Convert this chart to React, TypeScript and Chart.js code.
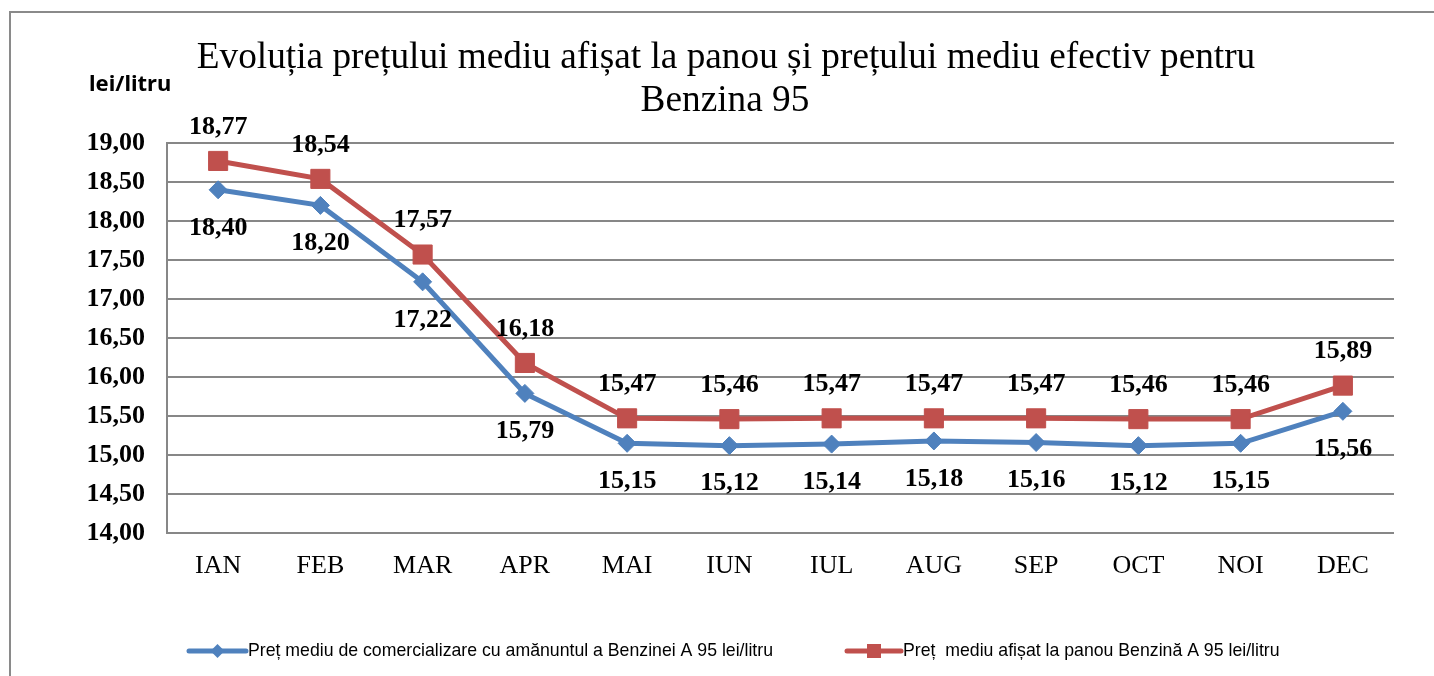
import React, { useEffect, useRef } from 'react';
import { Chart, registerables } from 'chart.js';

Chart.register(...registerables);

const months = ['IAN', 'FEB', 'MAR', 'APR', 'MAI', 'IUN', 'IUL', 'AUG', 'SEP', 'OCT', 'NOI', 'DEC'];
const retailPrices = [18.40, 18.20, 17.22, 15.79, 15.15, 15.12, 15.14, 15.18, 15.16, 15.12, 15.15, 15.56];
const panelPrices = [18.77, 18.54, 17.57, 16.18, 15.47, 15.46, 15.47, 15.47, 15.47, 15.46, 15.46, 15.89];
const yMin = 14;
const yMax = 19;
const yStep = 0.5;
const titleLines = [
  'Evoluția prețului mediu afișat la panou și prețului mediu efectiv pentru',
  'Benzina 95',
];
const yUnit = 'lei/litru';
const retailLabel = 'Preț mediu de comercializare cu amănuntul a Benzinei A 95 lei/litru';
const panelLabel = 'Preț  mediu afișat la panou Benzină A 95 lei/litru';

const BLUE = '#4F81BD';
const RED = '#C0504D';
const GRID = '#878787';

const fmt = (v: number) => v.toFixed(2).replace('.', ',');

const decorPlugin = {
  id: 'decor',
  beforeDraw(chart: any) {
    const ctx = chart.ctx;
    ctx.save();
    ctx.fillStyle = '#ffffff';
    ctx.fillRect(0, 0, chart.width, chart.height);
    ctx.strokeStyle = '#8a8a8a';
    ctx.lineWidth = 2;
    ctx.beginPath();
    ctx.moveTo(10, chart.height);
    ctx.lineTo(10, 12);
    ctx.lineTo(chart.width, 12);
    ctx.stroke();
    ctx.restore();
  },
  afterDatasetsDraw(chart: any) {
    const ctx = chart.ctx;
    ctx.save();
    ctx.font = 'bold 26px "Liberation Serif", "Times New Roman", serif';
    ctx.fillStyle = '#000000';
    ctx.textAlign = 'center';
    ctx.textBaseline = 'middle';
    chart.data.datasets.forEach((ds: any, i: number) => {
      const meta = chart.getDatasetMeta(i);
      const offset = ds.labelPos === 'above' ? -34 : 38;
      meta.data.forEach((pt: any, j: number) => {
        ctx.fillText(fmt(ds.data[j]), pt.x, pt.y + offset);
      });
    });
    ctx.restore();
  },
  afterDraw(chart: any) {
    const ctx = chart.ctx;
    ctx.save();
    // title
    ctx.fillStyle = '#000000';
    ctx.textAlign = 'center';
    ctx.textBaseline = 'alphabetic';
    ctx.font = '37.3px "Liberation Serif", "Times New Roman", serif';
    ctx.fillText(titleLines[0], 726, 68);
    ctx.fillText(titleLines[1], 725, 111);
    // unit
    ctx.textAlign = 'left';
    ctx.font = 'bold 22px "Noto Sans", "Open Sans", sans-serif';
    ctx.fillText(yUnit, 89, 91);
    // legend
    const ly = 651;
    const drawItem = (x0: number, x1: number, color: string, style: string, text: string) => {
      ctx.strokeStyle = color;
      ctx.lineWidth = 5;
      ctx.lineCap = 'round';
      ctx.beginPath();
      ctx.moveTo(x0, ly);
      ctx.lineTo(x1, ly);
      ctx.stroke();
      const cx = (x0 + x1) / 2;
      ctx.fillStyle = color;
      ctx.beginPath();
      if (style === 'diamond') {
        ctx.moveTo(cx - 7, ly);
        ctx.lineTo(cx, ly - 7);
        ctx.lineTo(cx + 7, ly);
        ctx.lineTo(cx, ly + 7);
        ctx.closePath();
      } else {
        ctx.rect(cx - 7, ly - 7, 14, 14);
      }
      ctx.fill();
      ctx.fillStyle = '#000000';
      ctx.textAlign = 'left';
      ctx.textBaseline = 'middle';
      ctx.font = '17.7px "Liberation Sans Narrow", "Liberation Sans", sans-serif';
      ctx.fillText(text, x1 + 2, ly);
    };
    drawItem(189, 246, BLUE, 'diamond', retailLabel);
    drawItem(847, 901, RED, 'square', panelLabel);
    ctx.restore();
  },
};

export default function App() {
  const ref = useRef<HTMLCanvasElement | null>(null);
  useEffect(() => {
    document.body.style.margin = '0';
    const canvas = ref.current;
    if (!canvas) return;
    const chart = new Chart(canvas, {
      type: 'line',
      data: {
        labels: months,
        datasets: [
          {
            label: retailLabel,
            data: retailPrices,
            borderColor: BLUE,
            backgroundColor: BLUE,
            borderWidth: 5,
            pointStyle: 'rectRot',
            pointRadius: 9,
            pointBorderWidth: 1,
            pointBorderColor: BLUE,
            pointBackgroundColor: BLUE,
            tension: 0,
            labelPos: 'below',
          } as any,
          {
            label: panelLabel,
            data: panelPrices,
            borderColor: RED,
            backgroundColor: RED,
            borderWidth: 5,
            pointStyle: 'rect',
            pointRadius: 13.5,
            pointBorderWidth: 1,
            pointBorderColor: RED,
            pointBackgroundColor: RED,
            tension: 0,
            labelPos: 'above',
          } as any,
        ],
      },
      options: {
        responsive: false,
        animation: false,
        devicePixelRatio: 1,
        layout: { padding: { top: 143, right: 40, left: 0, bottom: 0 } },
        plugins: {
          legend: { display: false },
          title: { display: false },
          tooltip: { enabled: false },
        },
        scales: {
          x: {
            offset: true,
            grid: { display: false, drawTicks: false },
            border: { display: false },
            ticks: {
              color: '#000000',
              padding: 18,
              font: { family: '"Liberation Serif", "Times New Roman", serif', size: 26 },
            },
            afterFit: (scale: any) => {
              scale.height = 143;
            },
          },
          y: {
            min: yMin,
            max: yMax,
            grid: { color: GRID, lineWidth: 2, drawTicks: false },
            border: { display: true, color: GRID, width: 2 },
            ticks: {
              stepSize: yStep,
              color: '#000000',
              padding: 22,
              font: { family: '"Liberation Serif", "Times New Roman", serif', size: 26, weight: 'bold' },
              callback: (v: any) => fmt(Number(v)),
            },
            afterFit: (scale: any) => {
              scale.width = 167;
            },
          },
        },
      },
      plugins: [decorPlugin],
    } as any);
    return () => chart.destroy();
  }, []);
  return (
    <div style={{ width: 1434, height: 676 }}>
      <canvas ref={ref} width={1434} height={676} style={{ display: 'block' }} />
    </div>
  );
}
